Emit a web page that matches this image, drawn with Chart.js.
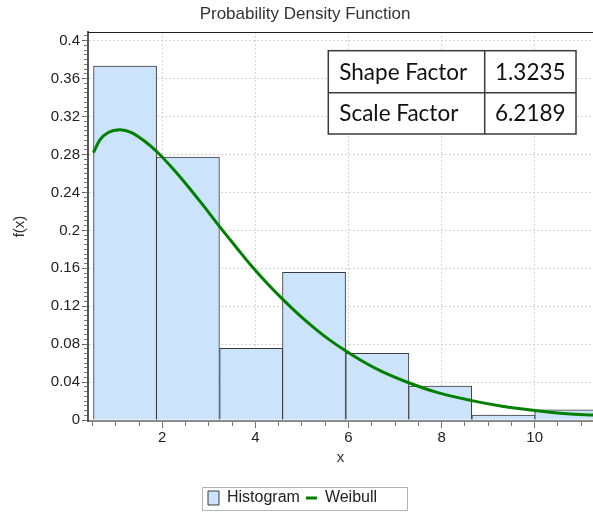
<!DOCTYPE html>
<html>
<head>
<meta charset="utf-8">
<script src="https://cdn.jsdelivr.net/npm/chart.js@4/dist/chart.umd.min.js"></script>
<style>
html,body{margin:0;padding:0;background:#fff;}
#wrap{width:593px;height:512px;}
</style>
</head>
<body>
<div id="wrap"><canvas id="c" width="593" height="512"></canvas></div>
<script>
// ---- data ----
const binCenters = [1.2, 2.55, 3.91, 5.26, 6.62, 7.97, 9.33, 10.68];
const binWidth = 1.355;
const histValues = [0.3733, 0.2772, 0.0757, 0.1559, 0.0704, 0.0357, 0.0053, 0.0108];
const curveX = [0.52, 0.66, 0.84, 1.09, 1.34, 1.63, 1.88, 2.2, 2.5, 2.85, 3.24, 3.6, 3.9, 4.25, 4.6, 4.95, 5.3, 5.6, 5.93, 6.3, 6.7, 7.28, 7.9, 8.65, 9.3, 10.0, 10.7, 11.26];
const curveY = [0.282, 0.2955, 0.3032, 0.3061, 0.3032, 0.2937, 0.2832, 0.2666, 0.2495, 0.2282, 0.2034, 0.1815, 0.1635, 0.1443, 0.1267, 0.1104, 0.0957, 0.0843, 0.0733, 0.062, 0.0516, 0.0396, 0.0292, 0.0205, 0.0146, 0.0101, 0.0067, 0.0052];
const xRange = [0.404, 11.253];
const yRange = [-0.001, 0.4092];
const xMajorStep = 2, xMinorStep = 0.5;
const yMajorStep = 0.04, yMinorStep = 0.005;
const tableRows = [['Shape Factor', '1.3235'], ['Scale Factor', '6.2189']];
const titleText = 'Probability Density Function';
const xTitle = 'x', yTitle = 'f(x)';
const seriesNames = ['Histogram', 'Weibull'];

// ---- styles ----
const FONT = "'Liberation Sans', Arial, sans-serif";
const BAR_FILL = '#cce4fb', BAR_EDGE = '#3c3c3c', LINE_COLOR = '#008000';
const GRID = '#d4d4d4';

const framePlugin = {
  id: 'frame',
  afterLayout(chart) {
    const lg = chart.legend;
    if (!lg || !lg.lineWidths) return;
    const p = 6;
    const cur = (lg.left + p + lg.right - lg.lineWidths[0]) / 2;
    const d = 208 - cur;
    lg.left += d; lg.right += d;
  },
  afterDatasetsDraw(chart) {
    const ctx = chart.ctx, a = chart.chartArea;
    ctx.save();
    // top frame line
    ctx.strokeStyle = '#1e1e1e'; ctx.lineWidth = 1;
    ctx.beginPath(); ctx.moveTo(a.left, Math.round(a.top) + 0.5); ctx.lineTo(a.right, Math.round(a.top) + 0.5); ctx.stroke();
    // parameter table
    const x0 = a.right - 264.7, x1 = a.right - 108.3, x2 = a.right - 17;
    const y0 = a.top + 18.7, y1 = a.top + 60.7, y2 = a.top + 102;
    ctx.fillStyle = '#fff';
    ctx.fillRect(x0, y0, x2 - x0, y2 - y0);
    ctx.strokeStyle = '#3a3a3a'; ctx.lineWidth = 1.5;
    ctx.strokeRect(x0, y0, x2 - x0, y2 - y0);
    ctx.beginPath();
    ctx.moveTo(x0, y1); ctx.lineTo(x2, y1);
    ctx.moveTo(x1, y0); ctx.lineTo(x1, y2);
    ctx.stroke();
    ctx.fillStyle = '#111';
    ctx.font = "22.5px Lato, 'Open Sans', sans-serif";
    ctx.textBaseline = 'alphabetic'; ctx.textAlign = 'left';
    const rowsY = [y0 + 29.3, y1 + 28.3];
    tableRows.forEach((r, i) => {
      ctx.fillText(r[0], x0 + 11, rowsY[i]);
      ctx.fillText(r[1], x1 + 10.3, rowsY[i]);
    });
    ctx.restore();
  },
  afterDraw(chart) {
    const lg = chart.legend;
    if (!lg || !lg.legendHitBoxes || !lg.legendHitBoxes.length) return;
    const hb = lg.legendHitBoxes[0];
    const ctx = chart.ctx;
    const cy = hb.top + hb.height / 2;
    const left = Math.round(hb.left - 6.3) + 0.5;
    ctx.save();
    ctx.strokeStyle = '#b4b4b4'; ctx.lineWidth = 1;
    ctx.strokeRect(left, Math.round(cy - 11.5) + 0.5, 205, 23);
    ctx.restore();
  }
};

Chart.defaults.font.family = FONT;

new Chart(document.getElementById('c'), {
  type: 'bar',
  data: {
    datasets: [
      {
        type: 'bar',
        label: seriesNames[0],
        data: binCenters.map((x, i) => ({ x: x, y: histValues[i] })),
        backgroundColor: BAR_FILL,
        borderColor: BAR_EDGE,
        borderWidth: 1,
        grouped: false,
        barThickness: (ctx) => {
          const s = ctx.chart.scales.x;
          return Math.abs(s.getPixelForValue(binWidth) - s.getPixelForValue(0));
        },
        order: 1
      },
      {
        type: 'line',
        label: seriesNames[1],
        data: curveX.map((x, i) => ({ x: x, y: curveY[i] })),
        borderColor: LINE_COLOR,
        backgroundColor: LINE_COLOR,
        borderWidth: 3,
        pointRadius: 0,
        fill: false,
        cubicInterpolationMode: 'monotone',
        order: 0
      }
    ]
  },
  options: {
    responsive: false,
    animation: false,
    devicePixelRatio: 1,
    layout: { padding: { left: 17, right: 0, top: 0, bottom: -4 } },
    plugins: {
      title: {
        display: true, text: titleText, color: '#333',
        font: { family: FONT, size: 17, weight: 'normal' },
        padding: { top: 4, bottom: 7.6 }
      },
      legend: {
        position: 'bottom',
        labels: {
          usePointStyle: true, pointStyleWidth: 11, boxHeight: 14, padding: 6,
          color: '#222', font: { family: FONT, size: 16 },
          generateLabels: (chart) => chart.data.datasets.map((ds, i) => ({
            text: ds.label,
            fillStyle: ds.type === 'bar' ? ds.backgroundColor : ds.borderColor,
            strokeStyle: ds.borderColor,
            lineWidth: ds.type === 'bar' ? 1 : 3,
            pointStyle: ds.type === 'bar' ? 'rect' : 'line',
            fontColor: '#222',
            hidden: false,
            datasetIndex: i
          }))
        }
      },
      tooltip: { enabled: false }
    },
    scales: {
      x: {
        type: 'linear', position: 'bottom', min: xRange[0], max: xRange[1], offset: false,
        ticks: { stepSize: xMajorStep, includeBounds: false, padding: 1, color: '#222', font: { family: FONT, size: 15 }, maxRotation: 0, autoSkip: false },
        grid: { offset: false, color: GRID, tickColor: '#666', tickLength: 7, tickWidth: 1 },
        border: { display: true, color: '#8a8a8a', width: 2, dash: [2, 2] },
        title: { display: true, text: xTitle, color: '#333', font: { family: FONT, size: 15 }, padding: { top: 0, bottom: 17 } },
        afterFit: (s) => { s.height = 63; }
      },
      x2: {
        type: 'linear', axis: 'x', position: { y: yRange[0] }, min: xRange[0], max: xRange[1], offset: false,
        ticks: { display: false, stepSize: xMinorStep, includeBounds: false, maxTicksLimit: 1000 },
        grid: { offset: false, drawOnChartArea: false, tickColor: '#777', tickLength: 5, tickWidth: 1 },
        border: { display: false }
      },
      y: {
        type: 'linear', position: 'left', min: yRange[0], max: yRange[1],
        ticks: {
          stepSize: yMajorStep, includeBounds: false, padding: 2, color: '#222', autoSkip: false,
          font: { family: FONT, size: 15 },
          callback: (v) => Math.abs(v) < 1e-9 ? '0' : String(+v.toFixed(2))
        },
        grid: { color: GRID, tickColor: '#555', tickLength: 6, tickWidth: 1 },
        border: { display: true, color: '#555', width: 2, dash: [2, 2] },
        title: { display: true, text: yTitle, color: '#333', font: { family: FONT, size: 15 }, padding: { top: -6.5, bottom: 0 } },
        afterFit: (s) => { s.width = 71; }
      },
      y2: {
        type: 'linear', axis: 'y', position: { x: xRange[0] }, min: yRange[0], max: yRange[1],
        ticks: { display: false, stepSize: yMinorStep, includeBounds: false, maxTicksLimit: 1000 },
        grid: { drawOnChartArea: false, tickColor: '#777', tickLength: 4, tickWidth: 1 },
        border: { display: false }
      }
    }
  },
  plugins: [framePlugin]
});
</script>
</body>
</html>
